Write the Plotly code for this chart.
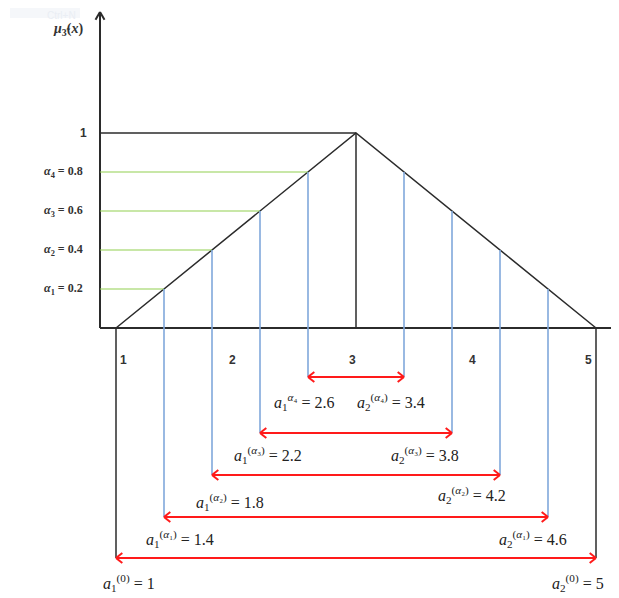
import math
import plotly.graph_objects as go

# triangular fuzzy number (1, 3, 5) and its alpha-cuts
alpha = [0.0, 0.2, 0.4, 0.6, 0.8]
a1 = [1.0, 1.4, 1.8, 2.2, 2.6]
a2 = [5.0, 4.6, 4.2, 3.8, 3.4]
tri_x = [1, 3, 5]
tri_y = [0, 1, 0]
tick_vals = [1, 2, 3, 4, 5]
cut_sup = ['(0)', '(<i>α</i>₁)', '(<i>α</i>₂)', '(<i>α</i>₃)', '<i>α</i>₄']
cut_sup2 = ['(0)', '(<i>α</i>₁)', '(<i>α</i>₂)', '(<i>α</i>₃)', '(<i>α</i>₄)']

# ---- layout constants (pixels of the 619x598 window) ----
OFF = 8                        # page body margin
W, H = 619 - OFF, 598 - OFF
KX, KY = 120.0, 195.0          # px per unit
X_MID_PX, Y0_PX = 356 - OFF, 328 - OFF   # where x=3 and y=0 sit
XR = [3 - X_MID_PX / KX, 3 + (W - X_MID_PX) / KX]
YR = [-(H - Y0_PX) / KY, Y0_PX / KY]


def px_x(p):
    return 3 + (p - OFF - X_MID_PX) / KX


def px_y(p):
    return (Y0_PX - (p - OFF)) / KY


def paper_x(p):
    return (p - OFF) / W


def paper_y(p):
    return 1 - (p - OFF) / H


yaxis_x = px_x(100)
yaxis_top = px_y(12)
row_px = [558, 517, 475, 433, 377]
row_y = [px_y(p) for p in row_px]
lab1_dx = [13, 16, 18, 8, -4]
lab1_dy = [25, 22, 27, 22, 25]
lab2_dx = [-18, -15, -28, -27, -13]
lab2_dy = [25, 22, 20, 22, 25]

BLACK = '#2b2b2b'
BLUE = '#80a8db'
GREEN = '#92d050'
RED = '#ff1a1a'
FONT_M = 'Liberation Serif'


def seg(xs, ys, x0, y0, x1, y1):
    xs += [x0, x1, None]
    ys += [y0, y1, None]


def chevron(xs, ys, tx, ty, ux, uy, L=8, ang=38):
    # ux, uy: direction of travel in screen units (y up)
    n = math.hypot(ux, uy)
    ux, uy = ux / n, uy / n
    for s in (1, -1):
        c, sn = math.cos(math.radians(ang)), s * math.sin(math.radians(ang))
        bx = -(ux * c - uy * sn) * L
        by = -(ux * sn + uy * c) * L
        seg(xs, ys, tx, ty, tx + bx / KX, ty + by / KY)


fig = go.Figure()

# axes
ax_x, ax_y = [], []
seg(ax_x, ax_y, yaxis_x, 0, yaxis_x, yaxis_top)
chevron(ax_x, ax_y, yaxis_x, yaxis_top, 0, 1, L=9, ang=30)
seg(ax_x, ax_y, yaxis_x, 0, XR[1], 0)
chevron(ax_x, ax_y, px_x(618), 0, 1, 0, L=7, ang=40)
fig.add_trace(go.Scatter(x=ax_x, y=ax_y, mode='lines',
                         line=dict(color=BLACK, width=2), hoverinfo='skip'))

# triangle, peak lines, outer frame
bx, by = [], []
bx += tri_x + [None]
by += tri_y + [None]
seg(bx, by, 3, 0, 3, 1)
seg(bx, by, yaxis_x, 1, 3, 1)
seg(bx, by, a1[0], 0, a1[0], row_y[0])
seg(bx, by, a2[0], 0, a2[0], row_y[0])
fig.add_trace(go.Scatter(x=bx, y=by, mode='lines',
                         line=dict(color=BLACK, width=1.5), hoverinfo='skip'))

# green alpha levels
gx, gy = [], []
for i in range(1, len(alpha)):
    seg(gx, gy, yaxis_x, alpha[i], a1[i], alpha[i])
fig.add_trace(go.Scatter(x=gx, y=gy, mode='lines',
                         line=dict(color=GREEN, width=1.2), hoverinfo='skip'))

# blue drop lines
ux_, uy_ = [], []
for i in range(1, len(alpha)):
    seg(ux_, uy_, a1[i], alpha[i], a1[i], row_y[i])
    seg(ux_, uy_, a2[i], alpha[i], a2[i], row_y[i])
fig.add_trace(go.Scatter(x=ux_, y=uy_, mode='lines',
                         line=dict(color=BLUE, width=1.6), hoverinfo='skip'))

# red double arrows
rx, ry = [], []
for i in range(len(alpha)):
    seg(rx, ry, a1[i], row_y[i], a2[i], row_y[i])
    chevron(rx, ry, a1[i], row_y[i], -1, 0)
    chevron(rx, ry, a2[i], row_y[i], 1, 0)
fig.add_trace(go.Scatter(x=rx, y=ry, mode='lines',
                         line=dict(color=RED, width=2), hoverinfo='skip'))

ann = []
# y labels
ann.append(dict(x=paper_x(89), xref='paper', y=1, yref='y', text='<b>1</b>',
                xanchor='right', showarrow=False,
                font=dict(family='Liberation Sans', size=12, color='#333')))
for i in range(1, len(alpha)):
    ann.append(dict(x=paper_x(85), xref='paper', y=alpha[i], yref='y',
                    text='<b><i>α</i><sub>%d</sub> = %g</b>' % (i, alpha[i]),
                    xanchor='right', showarrow=False,
                    font=dict(family=FONT_M, size=12, color='#333')))
ann.append(dict(x=paper_x(85), xref='paper', y=px_y(29), yref='y',
                text='<b><i>μ</i><sub>3̃</sub>(<i>x</i>)</b>', xanchor='right',
                showarrow=False, font=dict(family=FONT_M, size=14, color='#333')))

# x tick labels
for v in tick_vals:
    anchor = 'left' if v == tick_vals[0] else ('right' if v == tick_vals[-1] else 'center')
    sh = 2 if anchor == 'left' else (-2 if anchor == 'right' else -4)
    ann.append(dict(x=v, y=px_y(360), text='<b>%d</b>' % v, xanchor=anchor,
                    xshift=sh, showarrow=False,
                    font=dict(family='Liberation Sans', size=12, color='#333')))
ann.append(dict(x=px_x(616), y=px_y(300), text='<i>x</i>', xanchor='center',
                showarrow=False, font=dict(family=FONT_M, size=10, color='#c8813a')))

# cut end labels
for i in range(len(alpha)):
    ann.append(dict(x=a1[i], y=row_y[i], xshift=lab1_dx[i], yshift=-lab1_dy[i],
                    text='<i>a</i><sub>1</sub><sup>%s</sup> = %g' % (cut_sup[i], a1[i]),
                    showarrow=False, font=dict(family=FONT_M, size=16, color='#222')))
    ann.append(dict(x=a2[i], y=row_y[i], xshift=lab2_dx[i], yshift=-lab2_dy[i],
                    text='<i>a</i><sub>2</sub><sup>%s</sup> = %g' % (cut_sup2[i], a2[i]),
                    showarrow=False, font=dict(family=FONT_M, size=16, color='#222')))

# faint watermark box in the corner
ann.append(dict(x=paper_x(45), xref='paper', y=1.0, yref='paper', text='Ctrl+N',
                yanchor='top', showarrow=False,
                font=dict(family='Liberation Sans', size=10, color='#eaeef4')))

fig.update_layout(
    width=W, height=H,
    margin=dict(l=0, r=0, t=0, b=0),
    paper_bgcolor='white', plot_bgcolor='white',
    showlegend=False,
    xaxis=dict(range=XR, visible=False, fixedrange=True),
    yaxis=dict(range=YR, visible=False, fixedrange=True),
    annotations=ann,
    shapes=[dict(type='rect', xref='paper', yref='paper', x0=paper_x(10), x1=paper_x(80),
                 y0=paper_y(18), y1=1.0, fillcolor='#f5f7fa', line=dict(width=0),
                 layer='below')],
)

fig.write_html("out.html")
